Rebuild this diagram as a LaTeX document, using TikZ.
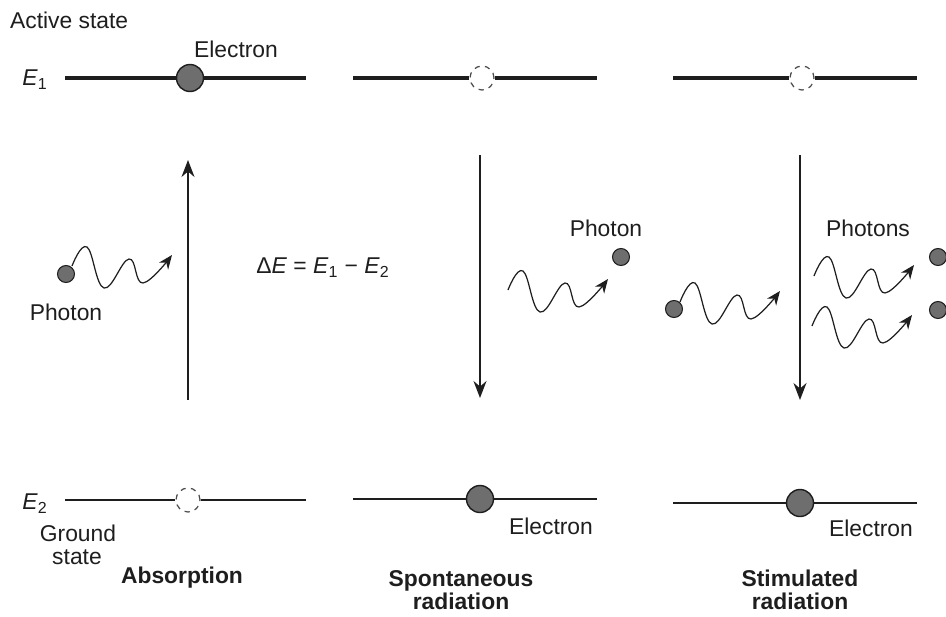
\documentclass[tikz,border=0pt]{standalone}
\usepackage{fontspec}
\setmainfont{Liberation Sans}
\usetikzlibrary{arrows.meta,positioning}
\definecolor{ink}{HTML}{1E1E1E}
\definecolor{dot}{HTML}{6E6E6E}
\newcommand{\lvl}[1]{\textit{E}\textsubscript{#1}}
\tikzset{
  wave/.pic={
    \draw[line width=0.7pt,ink,-{Stealth[length=2.8mm,width=2.3mm]}]
      plot[smooth,tension=0.7] coordinates {(0,0) (15,-19) (32,22) (57,-7) (71,17) (100,-11)};
  }
}

\begin{document}
\begin{tikzpicture}[x=0.02cm,y=-0.02cm,
  font=\fontsize{13}{15}\selectfont,
  electron/.style={circle,draw=ink,fill=dot,line width=0.8pt,minimum size=0.54cm,inner sep=0pt},
  hole/.style={circle,draw=ink!80,dashed,line width=0.7pt,minimum size=0.48cm,inner sep=0pt},
  photon/.style={circle,draw=ink,fill=dot,line width=0.6pt,minimum size=0.34cm,inner sep=0pt},
  upper/.style={ink,line width=2pt},
  lower/.style={ink,line width=1pt},
  trans/.style={ink,line width=0.9pt,-{Stealth[length=3.4mm,width=2.6mm]}},
  lbl/.style={text=ink,inner sep=1pt},
  title/.style={text=ink,font=\fontsize{13}{15}\selectfont\bfseries,align=center}]
  \useasboundingbox (0,0) rectangle (946,616);
  \node[lbl,anchor=west] (act) at (8,20) {Active state};
  \node[lbl] (e1lab) at (35,80) {\lvl{1}};
  \node[lbl] (e2lab) at (35,504) {\lvl{2}};
  \node[lbl] (gnd) at (78,533) {Ground};
  \node[lbl] (gst) at (77,557) {state};
  % LEFT: absorption
  \coordinate (a1) at (65,78);  \coordinate (b1) at (306,78);
  \coordinate (a2) at (65,500); \coordinate (b2) at (306,500);
  \node[electron] (up1) at (190,78) {};
  \node[hole] (dn1) at (188,500) {};
  \draw[upper] (a1) -- (up1) -- (b1);
  \draw[lower] (a2) -- (dn1) -- (b2);
  \node[lbl] (el1) at (236,49) {Electron};
  \coordinate (s1) at (188,400); \coordinate (t1) at (188,160);
  \draw[trans] (s1) -- (t1);
  \node[photon] (ph1) at (66,274) {};
  \pic at (72,266) {wave};
  \node[lbl] (phl1) at (66,312) {Photon};
  \node[title] (abs) at (182,578) {Absorption};
  \node[lbl] (de) at (323,268) {Δ\textit{E} = \lvl{1} − \lvl{2}};
  % MIDDLE: spontaneous radiation
  \coordinate (a3) at (353,78);  \coordinate (b3) at (597,78);
  \coordinate (a4) at (353,499); \coordinate (b4) at (597,499);
  \node[hole] (up2) at (482,78) {};
  \node[electron] (dn2) at (480,499) {};
  \draw[upper] (a3) -- (up2) -- (b3);
  \draw[lower] (a4) -- (dn2) -- (b4);
  \node[lbl] (el2) at (551,526) {Electron};
  \coordinate (s2) at (480,155); \coordinate (t2) at (480,398);
  \draw[trans] (s2) -- (t2);
  \pic at (508,290) {wave};
  \node[photon] (ph2) at (621,257) {};
  \node[lbl] (phl2) at (606,228) {Photon};
  \node[title] (spo) at (461,590) {Spontaneous\\[-2pt]radiation};
  % RIGHT: stimulated radiation
  \coordinate (a5) at (673,78);  \coordinate (b5) at (917,78);
  \coordinate (a6) at (673,503); \coordinate (b6) at (917,503);
  \node[hole] (up3) at (802,78) {};
  \node[electron] (dn3) at (800,503) {};
  \draw[upper] (a5) -- (up3) -- (b5);
  \draw[lower] (a6) -- (dn3) -- (b6);
  \node[lbl] (el3) at (871,528) {Electron};
  \coordinate (s3) at (800,155); \coordinate (t3) at (800,400);
  \draw[trans] (s3) -- (t3);
  \node[photon] (ph3) at (674,309) {};
  \pic at (680,302) {wave};
  \pic at (814,276) {wave};
  \pic at (812,326) {wave};
  \node[photon] (ph4) at (938,257) {};
  \node[photon] (ph5) at (938,310) {};
  \node[lbl] (phl3) at (868,228) {Photons};
  \node[title] (sti) at (800,590) {Stimulated\\[-2pt]radiation};
\end{tikzpicture}
\end{document}
